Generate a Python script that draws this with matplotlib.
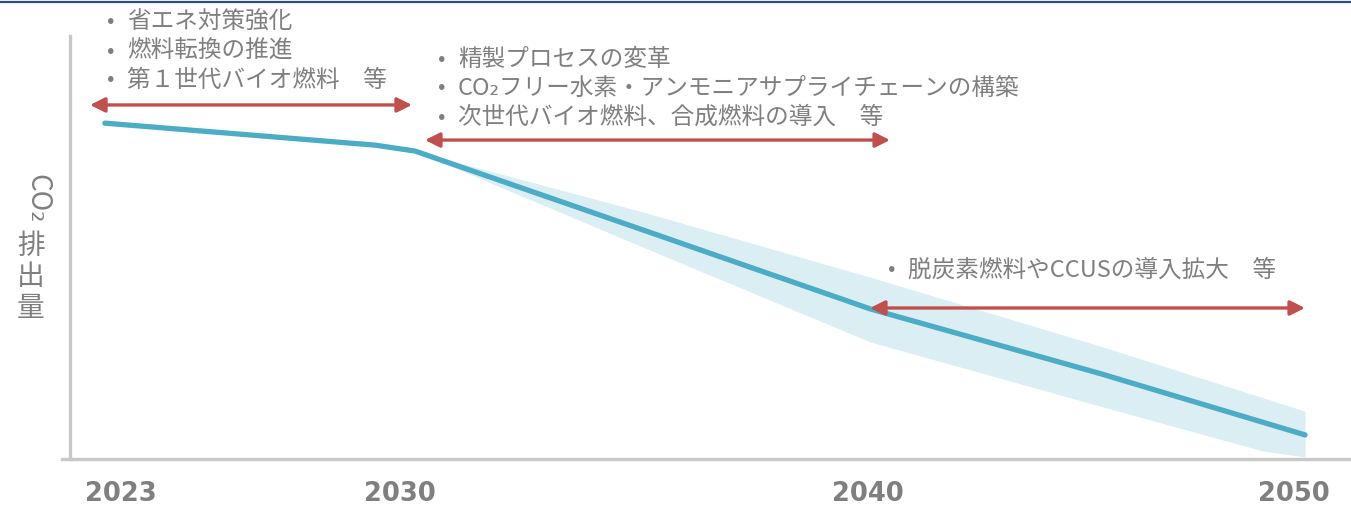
import matplotlib.pyplot as plt
from matplotlib.lines import Line2D

plt.rcParams['font.family'] = ['Noto Sans CJK JP', 'DejaVu Sans']

# 排出経路(相対値)
years = [2022.41, 2028.62, 2029.54, 2034.71, 2040, 2045.29, 2050]
emission = [79.4, 74.2, 72.8, 54.4, 35.5, 20.2, 5.7]

band_years = [2029.54, 2034.71, 2040, 2045.29, 2049.03, 2050]
band_upper = [72.8, 58.6, 43.0, 26.7, 14.5, 11.3]
band_lower = [72.8, 50.4, 27.7, 12.5, 1.9, 0.5]

tick_pos = [2022.78, 2029.2, 2039.95, 2049.75]
tick_labels = ['2023', '2030', '2040', '2050']

# 施策期間の矢印
arrow_start = [2022.07, 2029.77, 2040.0]
arrow_end = [2029.47, 2040.46, 2050.0]
arrow_level = [83.7, 75.4, 35.7]

measures = [
    ['省エネ対策強化', '燃料転換の推進', '第１世代バイオ燃料　等'],
    ['精製プロセスの変革', 'CO₂フリー水素・アンモニアサプライチェーンの構築', '次世代バイオ燃料、合成燃料の導入　等'],
    ['脱炭素燃料やCCUSの導入拡大　等'],
]
text_x = [111, 442, 892]
text_y = [22, 59, 270]

W, H = 1351, 506
fig = plt.figure(figsize=(W / 100, H / 100), dpi=100)
ax = fig.add_axes([70 / W, 1 - 460 / H, (W - 70) / W, (460 - 37) / H])

blue = '#4BACC6'
red = '#C0504D'
grey = '#7F7F7F'
axis_grey = '#C8C8C8'

ax.fill_between(band_years, band_lower, band_upper, color='#DAEEF3', lw=0, zorder=1)
ax.plot(years, emission, color=blue, lw=3.8, solid_capstyle='round', zorder=3)

for x0, x1, y in zip(arrow_start, arrow_end, arrow_level):
    ax.annotate('', xy=(x1, y), xytext=(x0, y),
                arrowprops=dict(arrowstyle='<|-|>', color=red, lw=2.4,
                                mutation_scale=22, shrinkA=0, shrinkB=0),
                zorder=4)

ax.set_xlim(2040 - 800 / 43.5, 2050 + 46 / 43.5)
ax.set_ylim(0, 100)

for s in ['top', 'right']:
    ax.spines[s].set_visible(False)
ax.spines['left'].set_color(axis_grey)
ax.spines['left'].set_linewidth(2.4)
ax.spines['bottom'].set_color(axis_grey)
ax.spines['bottom'].set_linewidth(2.4)
ax.set_yticks([])
ax.set_xticks(tick_pos)
ax.set_xticklabels(tick_labels, fontsize=18.5, fontweight='bold', color=grey,
                   family='DejaVu Sans')
ax.tick_params(axis='x', length=0, pad=15)
ax.patch.set_alpha(0)

# 横軸を少し左へ延長
fig.add_artist(Line2D([62 / W, 71 / W], [1 - 460 / H] * 2, color=axis_grey, lw=2.4))

# 上端の罫線
fig.add_artist(Line2D([0, 1], [1 - 3 / H] * 2, color='#2F4D8C', lw=1.6))

for lines, tx, ty in zip(measures, text_x, text_y):
    for i, line in enumerate(lines):
        y = 1 - (ty + 29 * i) / H
        fig.text(tx / W, y, '•', fontsize=16, color=grey, va='center', ha='center')
        fig.text((tx + 16) / W, y, line, fontsize=17, color=grey,
                 va='center', ha='left')

# 縦書きの軸ラベル
fig.text(37 / W, 1 - 199 / H, 'CO₂', fontsize=20, color=grey, rotation=270,
         ha='center', va='center')
fig.text(31 / W, 1 - 277 / H, '排\n出\n量', fontsize=20, color=grey,
         ha='center', va='center', linespacing=1.05)

fig.savefig('out.png', dpi=100)
